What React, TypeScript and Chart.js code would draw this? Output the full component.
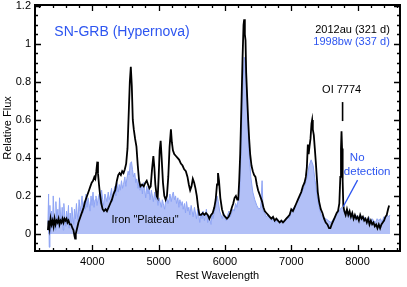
import React, { useEffect, useRef } from 'react';
import { Chart, registerables } from 'chart.js';

Chart.register(...registerables);

// ---------- data ----------
const seriesNames = ['2012au (321 d)', '1998bw (337 d)'];

const blackWave = [
  3330, 3340, 3355, 3370, 3385, 3400, 3415, 3430, 3445, 3460, 3475, 3490, 3505, 3520, 3535, 3550, 3565, 3580,
  3595, 3610, 3625, 3640, 3660, 3680, 3700, 3715, 3730, 3740, 3750, 3770, 3790, 3810, 3830, 3850, 3870, 3890,
  3910, 3930, 3950, 3970, 3990, 4010, 4030, 4045, 4060, 4075, 4085, 4100, 4115, 4135, 4155, 4175, 4200, 4220,
  4245, 4270, 4295, 4320, 4345, 4370, 4390, 4410, 4430, 4450, 4470, 4490, 4510, 4530, 4550, 4565, 4580, 4595,
  4610, 4625, 4645, 4665, 4685, 4705, 4725, 4750, 4775, 4800, 4820, 4840, 4860, 4880, 4900, 4920, 4935, 4950,
  4970, 4985, 5000, 5015, 5030, 5045, 5065, 5085, 5105, 5125, 5145, 5165, 5185, 5200, 5215, 5235, 5260, 5285,
  5310, 5335, 5360, 5385, 5410, 5435, 5455, 5475, 5495, 5515, 5535, 5555, 5575, 5595, 5615, 5640, 5665, 5690,
  5715, 5740, 5765, 5790, 5815, 5840, 5860, 5880, 5895, 5910, 5930, 5955, 5980, 6005, 6030, 6055, 6080, 6105,
  6125, 6145, 6165, 6185, 6200, 6215, 6230, 6250, 6265, 6280, 6290, 6300, 6310, 6320, 6335, 6350, 6365, 6380,
  6400, 6420, 6440, 6460, 6480, 6500, 6520, 6540, 6560, 6580, 6600, 6625, 6650, 6675, 6700, 6725, 6750, 6775,
  6800, 6825, 6850, 6875, 6900, 6925, 6950, 6975, 7000, 7025, 7050, 7075, 7100, 7125, 7150, 7175, 7200, 7220,
  7235, 7250, 7262, 7275, 7290, 7305, 7315, 7325, 7340, 7355, 7370, 7385, 7400, 7420, 7445, 7470, 7495, 7520,
  7545, 7570, 7590, 7610, 7635, 7660, 7685, 7705, 7725, 7740, 7750, 7758, 7766, 7775, 7785, 7800, 7820, 7840,
  7860, 7880, 7900, 7920, 7940, 7960, 7980, 8000, 8020, 8040, 8060, 8080, 8100, 8120, 8140, 8160, 8180, 8200,
  8220, 8240, 8260, 8280, 8300, 8320, 8340, 8360, 8380, 8400, 8420, 8440, 8460, 8476,
];
const blackFlux = [
  0.02, 0.07, 0.03, 0.08, 0.05, 0.07, 0.04, 0.08, 0.05, 0.07, 0.06, 0.08, 0.05, 0.07, 0.06, 0.08, 0.06, 0.08,
  0.07, 0.08, 0.06, 0.07, 0.05, 0.05, 0.03, 0.02, -0.01, -0.025, 0.0, 0.03, 0.06, 0.08, 0.1, 0.12, 0.14, 0.17,
  0.19, 0.21, 0.23, 0.25, 0.27, 0.28, 0.3, 0.29, 0.33, 0.38, 0.32, 0.26, 0.21, 0.16, 0.13, 0.12, 0.13, 0.12,
  0.14, 0.16, 0.18, 0.21, 0.23, 0.28, 0.31, 0.32, 0.31, 0.33, 0.32, 0.34, 0.37, 0.45, 0.65, 0.8, 0.88, 0.78,
  0.6, 0.55, 0.5, 0.46, 0.36, 0.28, 0.25, 0.26, 0.25, 0.27, 0.28, 0.26, 0.24, 0.25, 0.34, 0.41, 0.35, 0.26,
  0.2, 0.19, 0.3, 0.44, 0.49, 0.4, 0.27, 0.2, 0.18, 0.2, 0.3, 0.46, 0.55, 0.48, 0.44, 0.42, 0.41, 0.4,
  0.39, 0.37, 0.36, 0.34, 0.33, 0.3, 0.26, 0.23, 0.25, 0.29, 0.27, 0.24, 0.2, 0.14, 0.1, 0.1, 0.11, 0.1,
  0.11, 0.1, 0.08, 0.1, 0.11, 0.14, 0.18, 0.26, 0.32, 0.28, 0.19, 0.13, 0.1, 0.09, 0.08, 0.09, 0.11, 0.14,
  0.16, 0.19, 0.2, 0.18, 0.18, 0.28, 0.42, 0.7, 0.92, 1.1, 1.13, 1.05, 1.02, 0.85, 0.72, 0.6, 0.5, 0.42,
  0.36, 0.33, 0.31, 0.3, 0.26, 0.23, 0.21, 0.19, 0.17, 0.14, 0.12, 0.11, 0.1, 0.09, 0.08, 0.09, 0.07, 0.08,
  0.07, 0.06, 0.07, 0.06, 0.07, 0.08, 0.09, 0.1, 0.13, 0.12, 0.14, 0.16, 0.18, 0.2, 0.22, 0.25, 0.27, 0.3,
  0.35, 0.47, 0.42, 0.46, 0.5, 0.58, 0.6, 0.55, 0.52, 0.45, 0.38, 0.3, 0.22, 0.17, 0.13, 0.11, 0.08, 0.06,
  0.05, 0.03, 0.03, 0.05, 0.07, 0.09, 0.11, 0.12, 0.16, 0.3, 0.45, 0.54, 0.45, 0.28, 0.15, 0.12, 0.1, 0.13,
  0.1, 0.12, 0.09, 0.11, 0.08, 0.1, 0.08, 0.09, 0.07, 0.1, 0.08, 0.09, 0.07, 0.08, 0.06, 0.08, 0.05, 0.07,
  0.05, 0.06, 0.04, 0.05, 0.03, 0.05, 0.03, 0.05, 0.06, 0.07, 0.09, 0.1, 0.13, 0.15,
];

const blueWave = [
  3330, 3340, 3350, 3360, 3370, 3385, 3400, 3410, 3425, 3440, 3450, 3465, 3480, 3490, 3505, 3520, 3530, 3545,
  3560, 3570, 3585, 3600, 3610, 3625, 3640, 3650, 3665, 3680, 3690, 3705, 3720, 3730, 3745, 3760, 3770, 3785,
  3800, 3815, 3830, 3845, 3860, 3875, 3890, 3905, 3920, 3935, 3950, 3965, 3980, 3995, 4010, 4025, 4040, 4055,
  4070, 4090, 4105, 4120, 4140, 4155, 4170, 4190, 4205, 4220, 4240, 4255, 4270, 4290, 4305, 4320, 4340, 4355,
  4370, 4390, 4405, 4420, 4440, 4455, 4470, 4490, 4505, 4520, 4540, 4555, 4570, 4590, 4605, 4620, 4640, 4655,
  4670, 4690, 4705, 4720, 4740, 4755, 4770, 4790, 4805, 4820, 4840, 4855, 4870, 4890, 4905, 4920, 4940, 4955,
  4970, 4990, 5005, 5020, 5040, 5055, 5070, 5090, 5105, 5120, 5140, 5155, 5170, 5190, 5205, 5220, 5240, 5255,
  5270, 5290, 5305, 5320, 5340, 5355, 5370, 5390, 5405, 5420, 5440, 5455, 5470, 5490, 5505, 5520, 5540, 5555,
  5570, 5590, 5605, 5620, 5640, 5655, 5670, 5690, 5705, 5720, 5740, 5755, 5770, 5790, 5805, 5820, 5840, 5860,
  5880, 5900, 5920, 5940, 5960, 5980, 6000, 6020, 6040, 6060, 6080, 6100, 6120, 6140, 6160, 6180, 6200, 6220,
  6240, 6265, 6290, 6310, 6335, 6360, 6390, 6420, 6450, 6480, 6510, 6540, 6560, 6575, 6600, 6625, 6650, 6680,
  6705, 6730, 6760, 6785, 6810, 6840, 6865, 6890, 6920, 6945, 6970, 7000, 7040, 7080, 7120, 7160, 7200, 7240,
  7270, 7300, 7330, 7360, 7390, 7420, 7450, 7480, 7520, 7560, 7600, 7640, 7680, 7720, 7760, 7790, 7820, 7845,
  7870, 7895, 7920, 7945, 7970, 7995, 8020, 8045, 8070, 8095, 8120, 8145, 8170, 8195, 8220, 8245, 8270, 8295,
  8320, 8345, 8370, 8395, 8420, 8445, 8470, 8490,
];
const blueFlux = [
  0.05, 0.21, -0.07, 0.15, 0.0, 0.12, 0.03, 0.2, 0.08, 0.02, 0.17, 0.06, 0.13, 0.03, 0.19, 0.1, 0.05, 0.14,
  0.02, 0.16, 0.09, 0.04, 0.12, 0.07, 0.15, 0.03, 0.11, 0.06, 0.14, 0.09, 0.05, 0.13, 0.08, 0.16, 0.11, 0.07,
  0.18, 0.12, 0.15, 0.2, 0.11, 0.17, 0.13, 0.21, 0.14, 0.19, 0.16, 0.12, 0.2, 0.15, 0.22, 0.14, 0.18, 0.2,
  0.15, 0.19, 0.21, 0.16, 0.23, 0.18, 0.15, 0.21, 0.19, 0.17, 0.22, 0.18, 0.2, 0.24, 0.17, 0.22, 0.25, 0.2,
  0.27, 0.22, 0.26, 0.23, 0.28, 0.24, 0.26, 0.3, 0.25, 0.29, 0.33, 0.31, 0.37, 0.38, 0.34, 0.3, 0.32, 0.27,
  0.29, 0.24, 0.28, 0.23, 0.26, 0.21, 0.27, 0.23, 0.19, 0.25, 0.21, 0.24, 0.18, 0.23, 0.2, 0.17, 0.22, 0.18,
  0.2, 0.15, 0.19, 0.17, 0.14, 0.18, 0.16, 0.13, 0.17, 0.2, 0.16, 0.18, 0.21, 0.17, 0.2, 0.22, 0.18, 0.2,
  0.16, 0.19, 0.14, 0.18, 0.15, 0.17, 0.13, 0.16, 0.11, 0.17, 0.12, 0.14, 0.1, 0.15, 0.12, 0.09, 0.14, 0.11,
  0.08, 0.13, 0.1, 0.06, 0.11, 0.08, 0.12, 0.07, 0.1, 0.13, 0.06, 0.1, 0.08, 0.05, 0.11, 0.08, 0.12, 0.14,
  0.2, 0.17, 0.12, 0.1, 0.08, 0.11, 0.09, 0.07, 0.1, 0.12, 0.09, 0.11, 0.13, 0.12, 0.16, 0.14, 0.18, 0.22,
  0.4, 0.75, 0.93, 0.9, 0.7, 0.45, 0.3, 0.22, 0.18, 0.15, 0.13, 0.14, 0.28, 0.12, 0.11, 0.09, 0.1, 0.08,
  0.07, 0.08, 0.06, 0.08, 0.07, 0.06, 0.07, 0.06, 0.08, 0.09, 0.08, 0.12, 0.14, 0.16, 0.19, 0.22, 0.25, 0.3,
  0.36, 0.39, 0.36, 0.28, 0.2, 0.14, 0.1, 0.09, 0.08, 0.07, 0.06, 0.08, 0.1, 0.12, 0.14, 0.13, 0.11, 0.12,
  0.09, 0.11, 0.1, 0.08, 0.1, 0.09, 0.08, 0.1, 0.07, 0.09, 0.08, 0.07, 0.09, 0.06, 0.08, 0.07, 0.06, 0.08,
  0.07, 0.08, 0.06, 0.09, 0.08, 0.1, 0.09, 0.1,
];

const xTickValues = [4000, 5000, 6000, 7000, 8000];
const yTickValues = [0, 0.2, 0.4, 0.6, 0.8, 1, 1.2];
const xMinorStep = 200;
const yMinorStep = 0.05;
const xLimits = [3135, 8640];
const yLimits = [-0.09, 1.205];

// ---------- styles / annotations ----------
const FONT = '"Liberation Sans", Arial, Helvetica, sans-serif';
const BLUE_TEXT = '#2d55f0';
const BLUE_FILL = '#b2c0f7';
const BLUE_LINE = '#8ea4f4';

type Note = { text: string; x: number; y: number; color: string; size: number; align: CanvasTextAlign };
const notes: Note[] = [
  { text: 'SN-GRB (Hypernova)', x: 3427, y: 1.063, color: BLUE_TEXT, size: 14, align: 'left' },
  { text: seriesNames[0], x: 8486, y: 1.076, color: '#000', size: 11, align: 'right' },
  { text: seriesNames[1], x: 8486, y: 1.008, color: BLUE_TEXT, size: 11, align: 'right' },
  { text: 'OI 7774', x: 7760, y: 0.759, color: '#000', size: 11, align: 'center' },
  { text: 'No', x: 7884, y: 0.4, color: BLUE_TEXT, size: 11.5, align: 'left' },
  { text: 'detection', x: 7793, y: 0.327, color: BLUE_TEXT, size: 11.5, align: 'left' },
  { text: 'Iron "Plateau"', x: 4794, y: 0.073, color: '#000', size: 11, align: 'center' },
];
const markerLine = { x: 7774, y0: 0.594, y1: 0.694 };
const arrowLine = { x0: 7783, y0: 0.143, x1: 8000, y1: 0.283 };

const framePlugin = {
  id: 'frameTicks',
  afterDraw(chart: any) {
    const { ctx, chartArea: a, scales } = chart;
    const xs = scales.x;
    const ys = scales.y;
    ctx.save();
    ctx.strokeStyle = '#000';
    ctx.lineWidth = 1.3;
    ctx.beginPath();
    const nx = Math.round((xLimits[1] - 3200) / xMinorStep);
    for (let i = 0; i <= nx; i++) {
      const v = 3200 + i * xMinorStep;
      if (v > xLimits[1]) break;
      const p = Math.round(xs.getPixelForValue(v)) + 0.5;
      const len = v % 1000 === 0 ? 6 : 3;
      ctx.moveTo(p, a.bottom);
      ctx.lineTo(p, a.bottom - len);
      ctx.moveTo(p, a.top);
      ctx.lineTo(p, a.top + len);
    }
    const ny = Math.round((1.2 + 0.05) / yMinorStep);
    for (let i = 0; i <= ny; i++) {
      const v = -0.05 + i * yMinorStep;
      const p = Math.round(ys.getPixelForValue(v)) + 0.5;
      const major = Math.abs(Math.round(v * 100) % 20) === 0;
      const len = major ? 6 : 3;
      ctx.moveTo(a.left, p);
      ctx.lineTo(a.left + len, p);
      ctx.moveTo(a.right, p);
      ctx.lineTo(a.right - len, p);
    }
    ctx.stroke();

    ctx.lineWidth = 2;
    ctx.strokeRect(a.left, a.top, a.right - a.left, a.bottom - a.top);

    // marker
    ctx.lineWidth = 1.6;
    ctx.beginPath();
    const mx = xs.getPixelForValue(markerLine.x);
    ctx.moveTo(mx, ys.getPixelForValue(markerLine.y0));
    ctx.lineTo(mx, ys.getPixelForValue(markerLine.y1));
    ctx.stroke();

    // arrow
    ctx.strokeStyle = BLUE_TEXT;
    ctx.lineWidth = 1.3;
    ctx.beginPath();
    ctx.moveTo(xs.getPixelForValue(arrowLine.x0), ys.getPixelForValue(arrowLine.y0));
    ctx.lineTo(xs.getPixelForValue(arrowLine.x1), ys.getPixelForValue(arrowLine.y1));
    ctx.stroke();

    ctx.textBaseline = 'middle';
    for (const n of notes) {
      ctx.font = `${n.size}px ${FONT}`;
      ctx.fillStyle = n.color;
      ctx.textAlign = n.align;
      ctx.fillText(n.text, xs.getPixelForValue(n.x), ys.getPixelForValue(n.y));
    }
    ctx.restore();
  },
};

export default function App() {
  const ref = useRef<HTMLCanvasElement | null>(null);
  useEffect(() => {
    if (!ref.current) return;
    const chart = new Chart(ref.current, {
      type: 'line',
      data: {
        datasets: [
          {
            label: seriesNames[0],
            data: blackWave.map((w, i) => ({ x: w, y: blackFlux[i] })),
            borderColor: '#000',
            borderWidth: 1.8,
            pointRadius: 0,
            fill: false,
            tension: 0,
            order: 0,
          },
          {
            label: seriesNames[1],
            data: blueWave.map((w, i) => ({ x: w, y: blueFlux[i] })),
            borderColor: BLUE_LINE,
            backgroundColor: BLUE_FILL,
            borderWidth: 1,
            pointRadius: 0,
            fill: 'origin',
            tension: 0,
            order: 1,
          },
        ],
      },
      options: {
        animation: false,
        responsive: false,
        devicePixelRatio: 1,
        layout: { padding: { left: 0, right: 7, top: 5, bottom: 0 } },
        plugins: { legend: { display: false }, tooltip: { enabled: false } },
        scales: {
          x: {
            type: 'linear',
            min: xLimits[0],
            max: xLimits[1],
            grid: { display: false, drawTicks: false },
            border: { display: false },
            ticks: {
              color: '#000',
              padding: 4,
              font: { family: FONT, size: 11 },
              maxRotation: 0,
              callback: (v: any) => String(v),
            },
            title: {
              display: true,
              text: 'Rest Wavelength',
              color: '#000',
              font: { family: FONT, size: 11 },
              padding: { top: 0, bottom: 4 },
            },
            afterBuildTicks: (s: any) => {
              s.ticks = xTickValues.map((v) => ({ value: v }));
            },
            afterFit: (s: any) => {
              s.height = 36;
              s.paddingLeft = 0;
              s.paddingRight = 0;
            },
          },
          y: {
            type: 'linear',
            min: yLimits[0],
            max: yLimits[1],
            grid: { display: false, drawTicks: false },
            border: { display: false },
            ticks: {
              color: '#000',
              padding: 4,
              font: { family: FONT, size: 11 },
              callback: (v: any) => String(Math.round(Number(v) * 10) / 10),
            },
            title: {
              display: true,
              text: 'Relative Flux',
              color: '#000',
              font: { family: FONT, size: 11 },
              padding: { top: 1, bottom: 0 },
            },
            afterBuildTicks: (s: any) => {
              s.ticks = yTickValues.map((v) => ({ value: v }));
            },
            afterFit: (s: any) => {
              s.width = 35;
              s.paddingTop = 0;
              s.paddingBottom = 0;
            },
          },
        },
      },
      plugins: [framePlugin],
    } as any);
    return () => chart.destroy();
  }, []);
  return (
    <div style={{ position: 'fixed', left: 0, top: 0, width: 407, height: 287, background: '#fff' }}>
      <canvas ref={ref} width={407} height={287} style={{ width: 407, height: 287, display: 'block' }} />
    </div>
  );
}
